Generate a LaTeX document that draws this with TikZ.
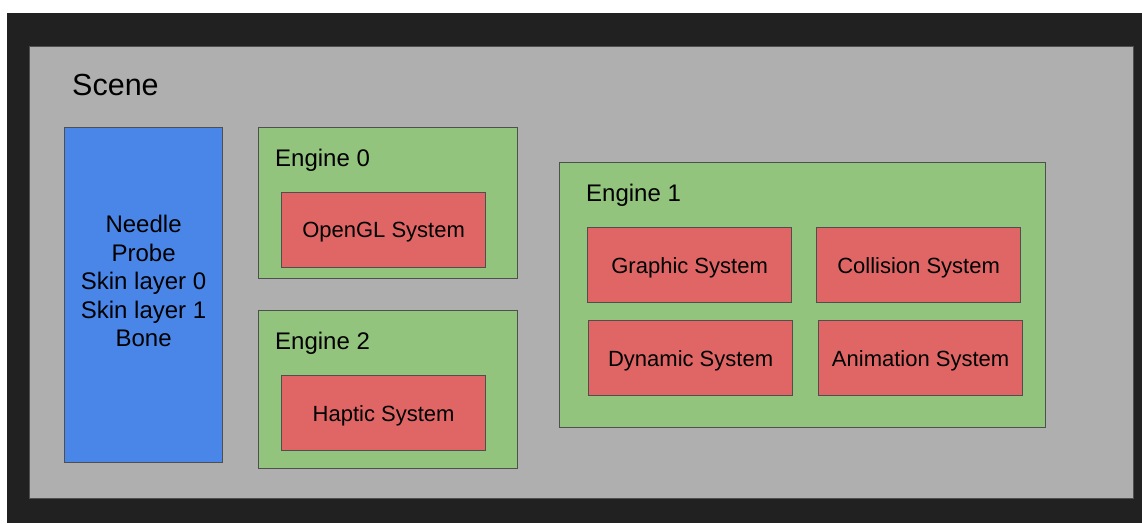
\documentclass[tikz,border=0pt]{standalone}
\usepackage{fontspec}
\setmainfont{Liberation Sans}
\usetikzlibrary{positioning}
\definecolor{frameDark}{HTML}{212121}
\definecolor{sceneGray}{HTML}{AFAFAF}
\definecolor{objBlue}{HTML}{4A86E8}
\definecolor{engGreen}{HTML}{93C47D}
\definecolor{sysRed}{HTML}{E06666}
\definecolor{edgeGray}{HTML}{4F4F4F}

\begin{document}
\begin{tikzpicture}[
  x=1pt, y=-1pt,
  panel/.style={draw=edgeGray, line width=1.2pt, anchor=north west, inner sep=0pt},
  engine/.style={panel, fill=engGreen},
  sysbox/.style={draw=edgeGray, line width=1.2pt, fill=sysRed, anchor=north west, text depth=0pt,
                 minimum width=204pt, minimum height=75pt, font=\fontsize{22}{26}\selectfont},
  title/.style={anchor=base west, inner sep=0pt, font=\fontsize{24}{28}\selectfont},
]
  \useasboundingbox (0,0) rectangle (1142,523);
  \fill[frameDark] (7,13) rectangle (1142,523);

  % scene panel and the object list
  \node[panel, fill=sceneGray, minimum width=1104pt, minimum height=452pt] (scene) at (29,46) {};
  \node[title, font=\fontsize{30.5}{34}\selectfont] (scenelbl) at (72,95) {Scene};
  \node[panel, fill=objBlue, minimum width=158pt, minimum height=335pt] (objects) at (64,127) {};
  \node[align=center, font=\fontsize{24}{28.6}\selectfont] (objlist) at (objects.center) [yshift=14pt]
    {Needle\\Probe\\Skin layer 0\\Skin layer 1\\Bone};

  % engine 0
  \node[engine, minimum width=259pt, minimum height=151pt] (eng0) at (258,127) {};
  \node[title] (eng0lbl) at (275,166) {Engine 0};
  \node[sysbox] (opengl) at (281,192) {OpenGL System};

  % engine 2
  \node[engine, minimum width=259pt, minimum height=158pt] (eng2) at (258,310) {};
  \node[title] (eng2lbl) at (275,349) {Engine 2};
  \node[sysbox] (haptic) at (281,375) {Haptic System};

  % engine 1
  \node[engine, minimum width=486pt, minimum height=265pt] (eng1) at (559,162) {};
  \node[title] (eng1lbl) at (586,201) {Engine 1};
  \node[sysbox] (graphic) at (587,227) {Graphic System};
  \node[sysbox] (collision) at (816,227) {Collision System};
  \node[sysbox] (dynamic) at (588,320) {Dynamic System};
  \node[sysbox] (animation) at (818,320) {Animation System};
\end{tikzpicture}
\end{document}
